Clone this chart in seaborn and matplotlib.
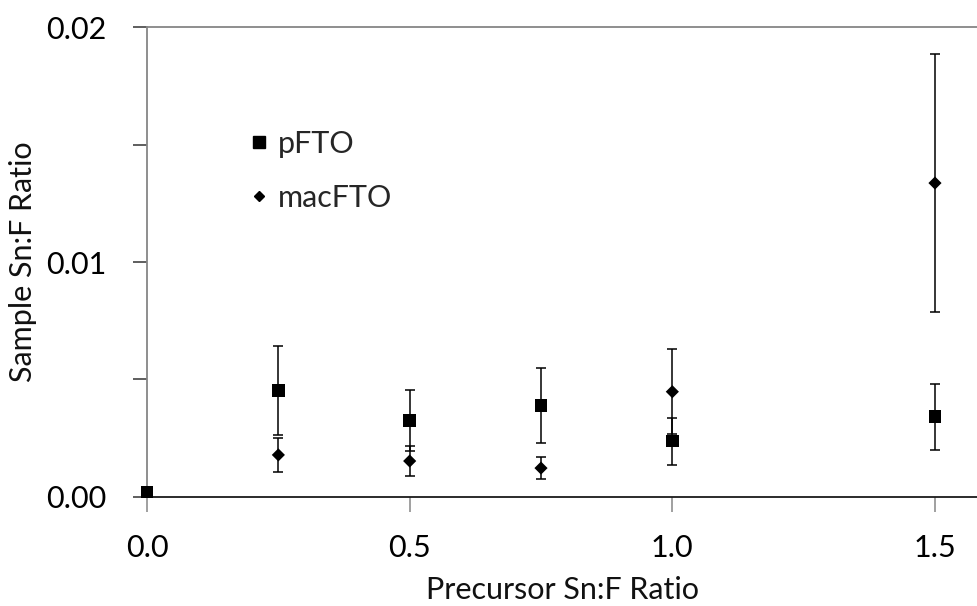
import matplotlib
matplotlib.use("Agg")
import matplotlib.pyplot as plt
import seaborn as sns
import pandas as pd
from matplotlib.ticker import MultipleLocator, FormatStrFormatter
from matplotlib.lines import Line2D

# ---- data ----
pfto_x = [0.0, 0.25, 0.5, 0.75, 1.0, 1.5]
pfto_y = [0.0002, 0.00454, 0.00325, 0.0039, 0.00238, 0.00342]
pfto_err = [0.0, 0.0019, 0.0013, 0.0016, 0.0010, 0.0014]

mac_x = [0.25, 0.5, 0.75, 1.0, 1.5]
mac_y = [0.00179, 0.00153, 0.00123, 0.00448, 0.01336]
mac_err = [0.00074, 0.00062, 0.00048, 0.0018, 0.0055]

series_names = ["pFTO", "macFTO"]
xlabel = "Precursor Sn:F Ratio"
ylabel = "Sample Sn:F Ratio"

sns.set_theme(style="white")
plt.rcParams["font.family"] = ["Lato", "DejaVu Sans"]

df = pd.DataFrame({
    "x": pfto_x + mac_x,
    "y": pfto_y + mac_y,
    "series": [series_names[0]] * len(pfto_x) + [series_names[1]] * len(mac_x),
})

fig = plt.figure(figsize=(9.77, 6.06), dpi=100)
ax = fig.add_axes([0.1505, 0.1799, 0.8495, 0.7755])

# error bars
ax.errorbar(pfto_x, pfto_y, yerr=pfto_err, fmt="none", ecolor="black",
            elinewidth=1.1, capsize=3.6, capthick=1.1, zorder=2)
ax.errorbar(mac_x, mac_y, yerr=mac_err, fmt="none", ecolor="black",
            elinewidth=1.1, capsize=3.6, capthick=1.1, zorder=2)

sns.scatterplot(data=df, x="x", y="y", style="series",
                markers={"pFTO": "s", "macFTO": "D"},
                size="series", sizes={"pFTO": 80, "macFTO": 45},
                color="black", edgecolor="black", linewidth=0,
                legend=False, ax=ax, zorder=3, clip_on=False)

ax.set_xlim(0, 1.58)
ax.set_ylim(0, 0.02)
ax.xaxis.set_major_locator(MultipleLocator(0.5))
ax.xaxis.set_major_formatter(FormatStrFormatter("%.1f"))
ax.yaxis.set_major_locator(MultipleLocator(0.01))
ax.yaxis.set_minor_locator(MultipleLocator(0.005))
ax.yaxis.set_major_formatter(FormatStrFormatter("%.2f"))

for s in ["left", "top"]:
    ax.spines[s].set_color("#868686")
    ax.spines[s].set_linewidth(1.3)
ax.spines["bottom"].set_color("#1a1a1a")
ax.spines["bottom"].set_linewidth(1.3)
ax.spines["right"].set_visible(False)

ax.tick_params(axis="y", which="both", direction="out", length=10, width=1.1,
               color="#333333", left=True, labelsize=22, pad=19, labelcolor="black")
ax.tick_params(axis="x", which="major", direction="out", length=11, width=1.1,
               color="#868686", bottom=True, labelsize=22, pad=16, labelcolor="black")

ax.set_xlabel(xlabel, fontsize=22, labelpad=10, color="#111111")
ax.set_ylabel(ylabel, fontsize=22, labelpad=7, color="#111111")

handles = [
    Line2D([], [], marker="s", color="black", linestyle="none", markersize=8),
    Line2D([], [], marker="D", color="black", linestyle="none", markersize=5.3),
]
ax.legend(handles, series_names, loc="upper left", bbox_to_anchor=(0.091, 0.839),
          frameon=False, fontsize=22, handlelength=0.6, handletextpad=0.3,
          labelspacing=0.85)

fig.savefig("out.png", dpi=100)
